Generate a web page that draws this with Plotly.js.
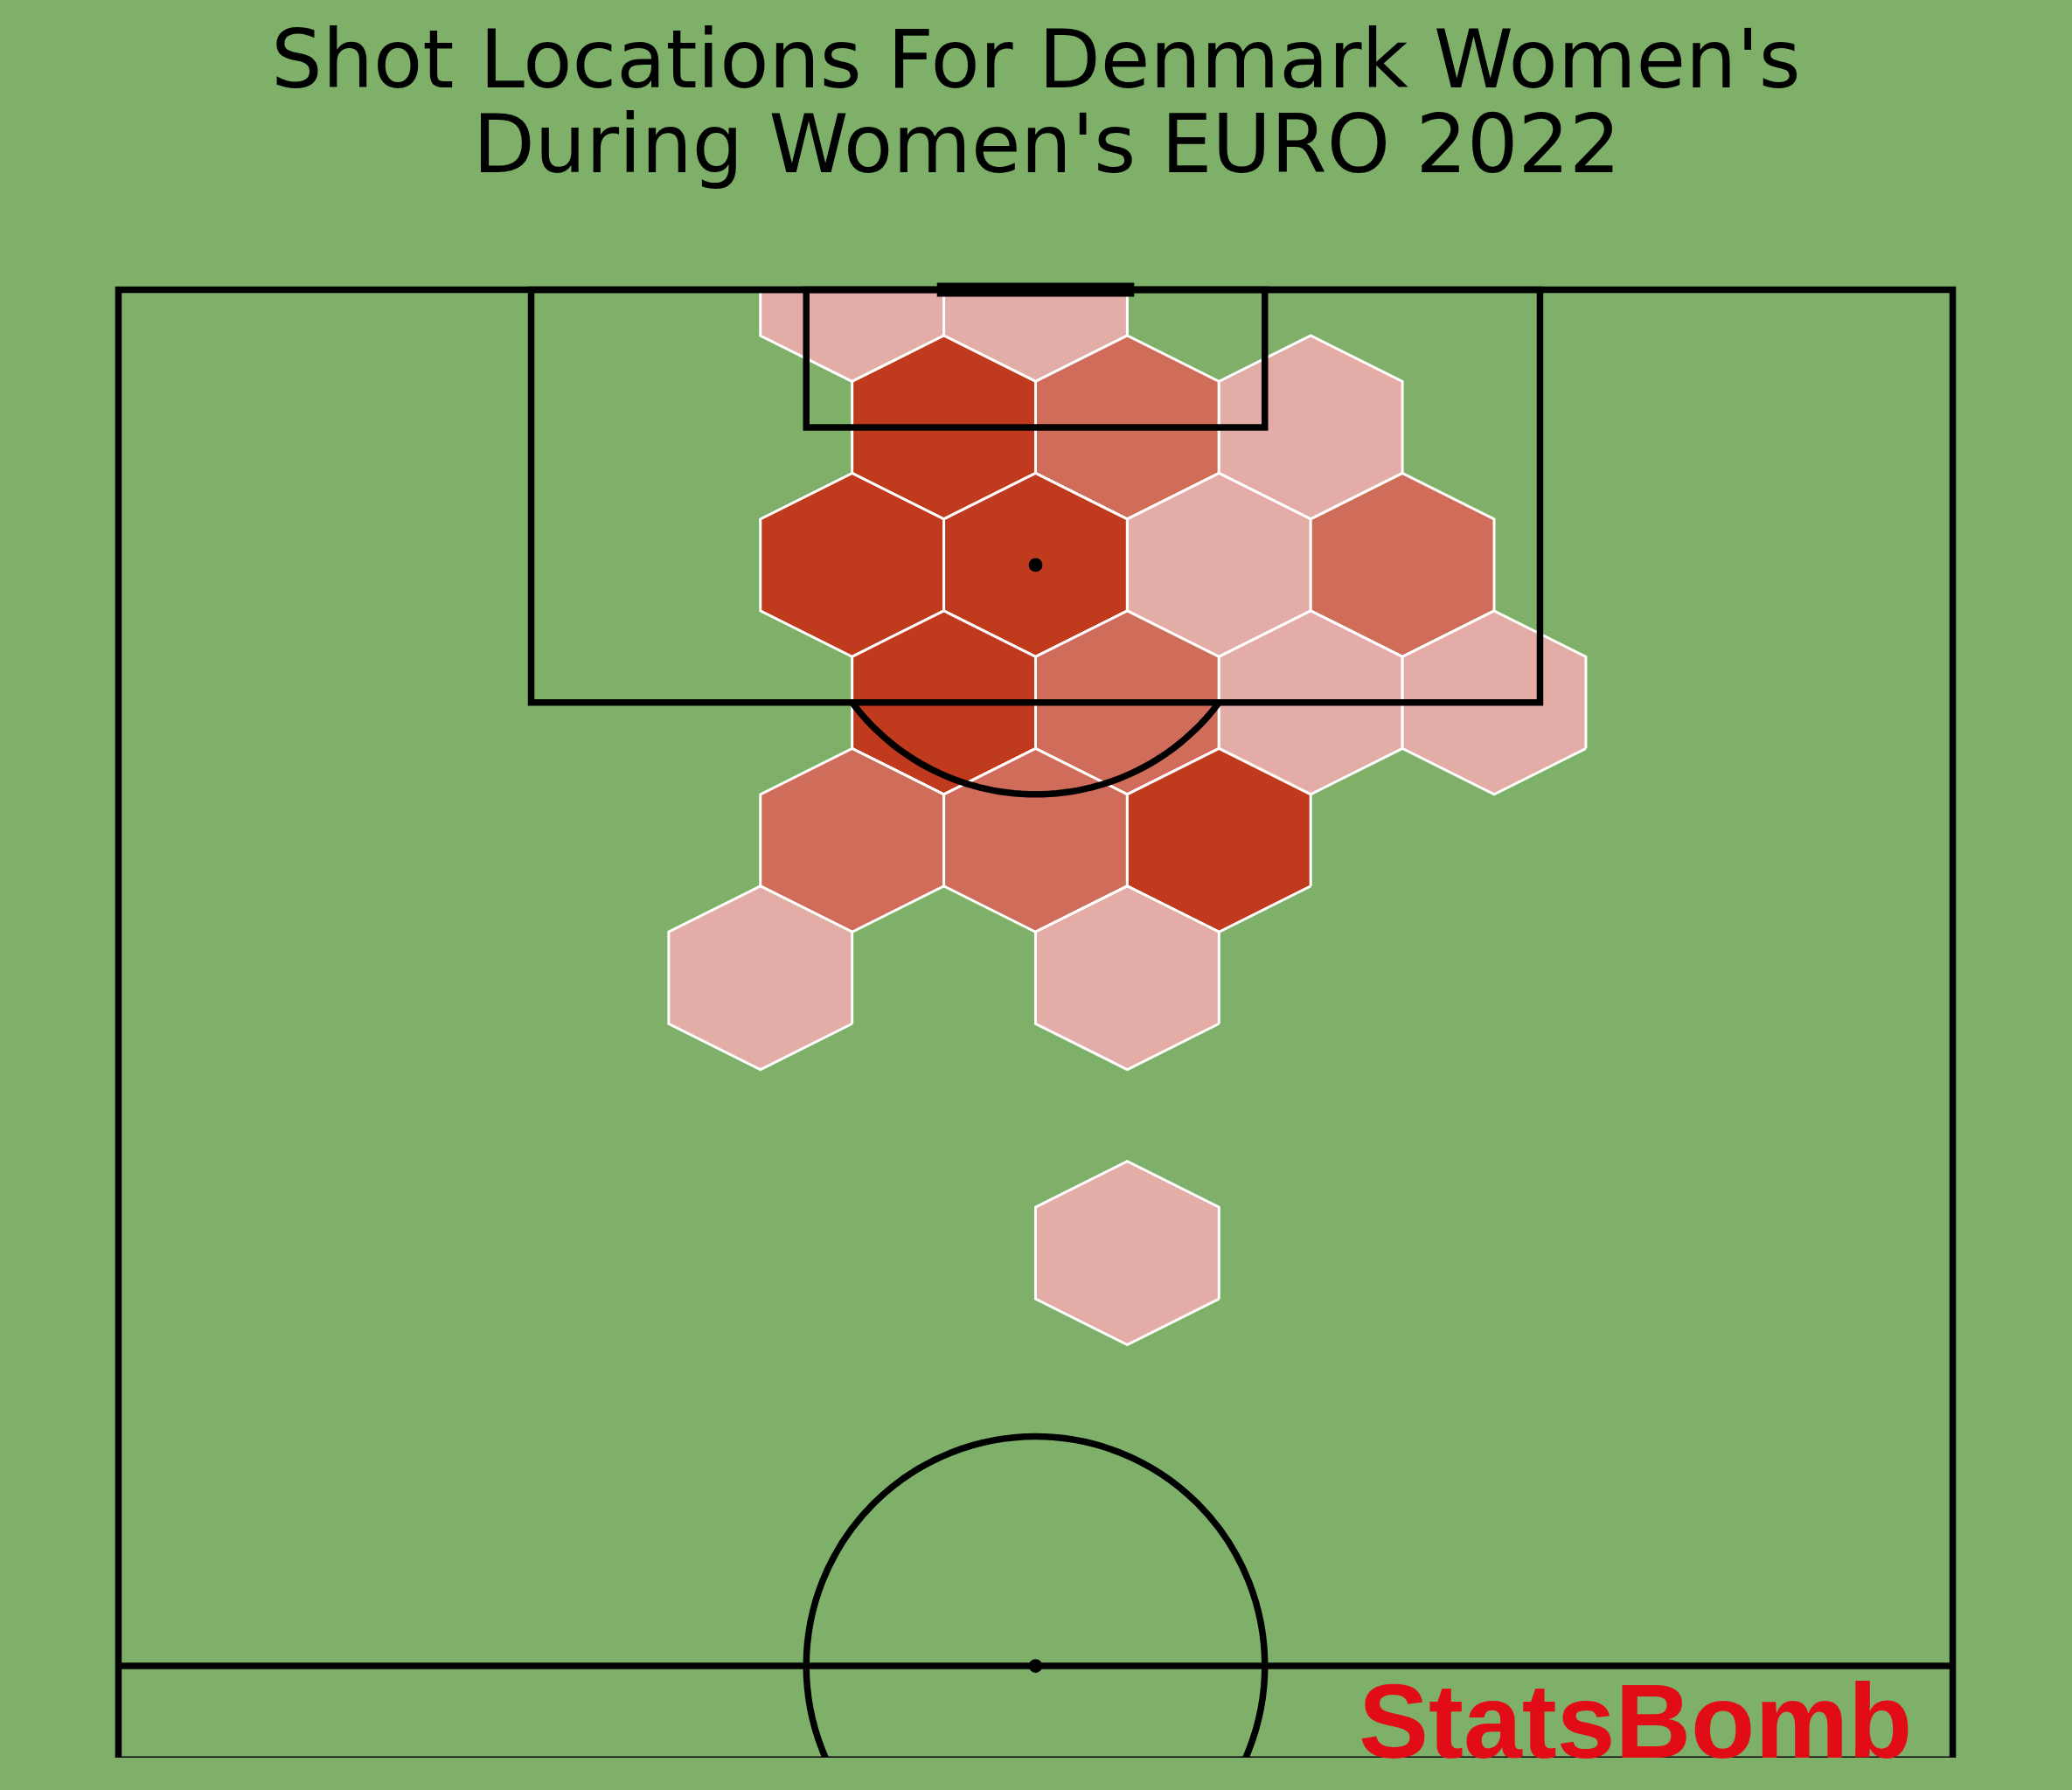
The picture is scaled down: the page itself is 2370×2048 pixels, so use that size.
<!DOCTYPE html>
<html>
<head>
<meta charset="utf-8">
<script src="https://cdn.plot.ly/plotly-3.0.1.min.js"></script>
<style>
  html, body { margin: 0; padding: 0; background: #7eb06a; }
  #chart { width: 2370px; height: 2048px; }
</style>
</head>
<body>
<div id="chart"></div>
<script>
// hexbin cells (StatsBomb coords: x = pitch width, y = pitch length)
const HEX_X     = [32, 40,  36, 44, 52,  32, 40, 48, 56,  36, 44, 52, 60,  32, 40, 48,  28, 44,  44];
const HEX_Y     = [120, 120, 114, 114, 114, 108, 108, 108, 108, 102, 102, 102, 102, 96, 96, 96, 90, 90, 78];
const HEX_COUNT = [1, 1,   3, 2, 1,   3, 3, 1, 2,   3, 2, 1, 1,   2, 2, 3,   1, 1,   1];

const TITLE_LINES = ["Shot Locations For Denmark Women's", "During Women's EURO 2022"];
const CMAP = ['#e3aca7', '#c03a1d'];
const N_BINS = 10;

const GRASS = '#7eb06a';
const LINE = '#000000';
const LW = 7.5;

// hex half-sizes in data units (matplotlib hexbin shape)
const HW = 4, HH = 4;

function hexToRgb(h) {
  return [1, 3, 5].map(i => parseInt(h.slice(i, i + 2), 16));
}
function cmapColor(c, lo, hi) {
  let t = hi > lo ? (c - lo) / (hi - lo) : 0;
  const bin = Math.min(Math.floor(t * N_BINS), N_BINS - 1);
  const f = bin / (N_BINS - 1);
  const a = hexToRgb(CMAP[0]), b = hexToRgb(CMAP[1]);
  const rgb = a.map((v, i) => Math.round(v + (b[i] - v) * f));
  return `rgb(${rgb.join(',')})`;
}

// clip polygon to y <= ymax (pitch end)
function clipTop(pts, ymax) {
  const out = [];
  for (let i = 0; i < pts.length; i++) {
    const p = pts[i], q = pts[(i + 1) % pts.length];
    const pin = p[1] <= ymax, qin = q[1] <= ymax;
    if (pin) out.push(p);
    if (pin !== qin) {
      const t = (ymax - p[1]) / (q[1] - p[1]);
      out.push([p[0] + t * (q[0] - p[0]), ymax]);
    }
  }
  return out;
}

const lo = Math.min(...HEX_COUNT), hi = Math.max(...HEX_COUNT);
const traces = HEX_X.map((cx, i) => {
  const cy = HEX_Y[i];
  let pts = [[cx + HW, cy - HH / 2], [cx + HW, cy + HH / 2], [cx, cy + HH],
             [cx - HW, cy + HH / 2], [cx - HW, cy - HH / 2], [cx, cy - HH]];
  pts = clipTop(pts, 120);
  pts.push(pts[0]);
  return {
    x: pts.map(p => p[0]), y: pts.map(p => p[1]),
    mode: 'lines', fill: 'toself', fillcolor: cmapColor(HEX_COUNT[i], lo, hi),
    line: { color: '#ffffff', width: 3 },
    hoverinfo: 'skip', showlegend: false,
  };
});

// penalty arc outside the box
let arc = '';
const a0 = Math.acos(8 / 10);
for (let k = 0; k <= 60; k++) {
  const ang = -a0 - (Math.PI - 2 * a0) * k / 60;
  const px = 40 + 10 * Math.cos(ang), py = 108 + 10 * Math.sin(ang);
  arc += (k === 0 ? 'M' : 'L') + px.toFixed(3) + ',' + py.toFixed(3);
}

const ln = { color: LINE, width: LW };
const shapes = [
  { type: 'rect', x0: 0, x1: 80, y0: 0, y1: 120, line: ln },
  { type: 'line', x0: 0, x1: 80, y0: 60, y1: 60, line: ln },
  { type: 'rect', x0: 18, x1: 62, y0: 102, y1: 120, line: ln },
  { type: 'rect', x0: 30, x1: 50, y0: 114, y1: 120, line: ln },
  { type: 'line', x0: 35.7, x1: 44.3, y0: 120, y1: 120, line: { color: LINE, width: 16 } },
  { type: 'path', path: arc, line: ln },
  { type: 'circle', x0: 30, x1: 50, y0: 50, y1: 70, line: ln },
  { type: 'circle', x0: 39.7, x1: 40.3, y0: 107.7, y1: 108.3, fillcolor: LINE, line: { width: 0 } },
  { type: 'circle', x0: 39.7, x1: 40.3, y0: 59.7, y1: 60.3, fillcolor: LINE, line: { width: 0 } },
  { type: 'line', x0: 0, x1: 80, y0: 56, y1: 56, line: { color: LINE, width: 3 } },
].map(s => ({ xref: 'x', yref: 'y', layer: 'above', ...s }));

const axis = { visible: false, showgrid: false, zeroline: false, fixedrange: true };
const titleFont = { family: 'DejaVu Sans', size: 92, color: '#000000' };

Plotly.newPlot('chart', traces, {
  width: 2370, height: 2048,
  margin: { l: 82.5, r: 83.5, t: 279, b: 37, pad: 0 },
  paper_bgcolor: GRASS, plot_bgcolor: GRASS,
  title: {
    text: TITLE_LINES[0], x: 0.5, xanchor: 'center', yref: 'container', y: 0.9668, yanchor: 'middle',
    font: titleFont,
  },
  xaxis: { ...axis, range: [-2, 82] },
  yaxis: { ...axis, range: [56, 122] },
  shapes,
  annotations: [{
    text: TITLE_LINES[1], xref: 'paper', yref: 'paper', x: 0.5059, y: 1.0658,
    xanchor: 'center', yanchor: 'middle', showarrow: false, font: titleFont,
  }, {
    text: 'StatsBomb', xref: 'x', yref: 'y', x: 54.0, y: 57.6,
    xanchor: 'left', yanchor: 'middle', showarrow: false,
    font: { family: 'Liberation Sans', size: 120, color: '#e20c17', weight: 'bold' },
  }],
  showlegend: false,
}, { displayModeBar: false, staticPlot: true });
</script>
</body>
</html>
